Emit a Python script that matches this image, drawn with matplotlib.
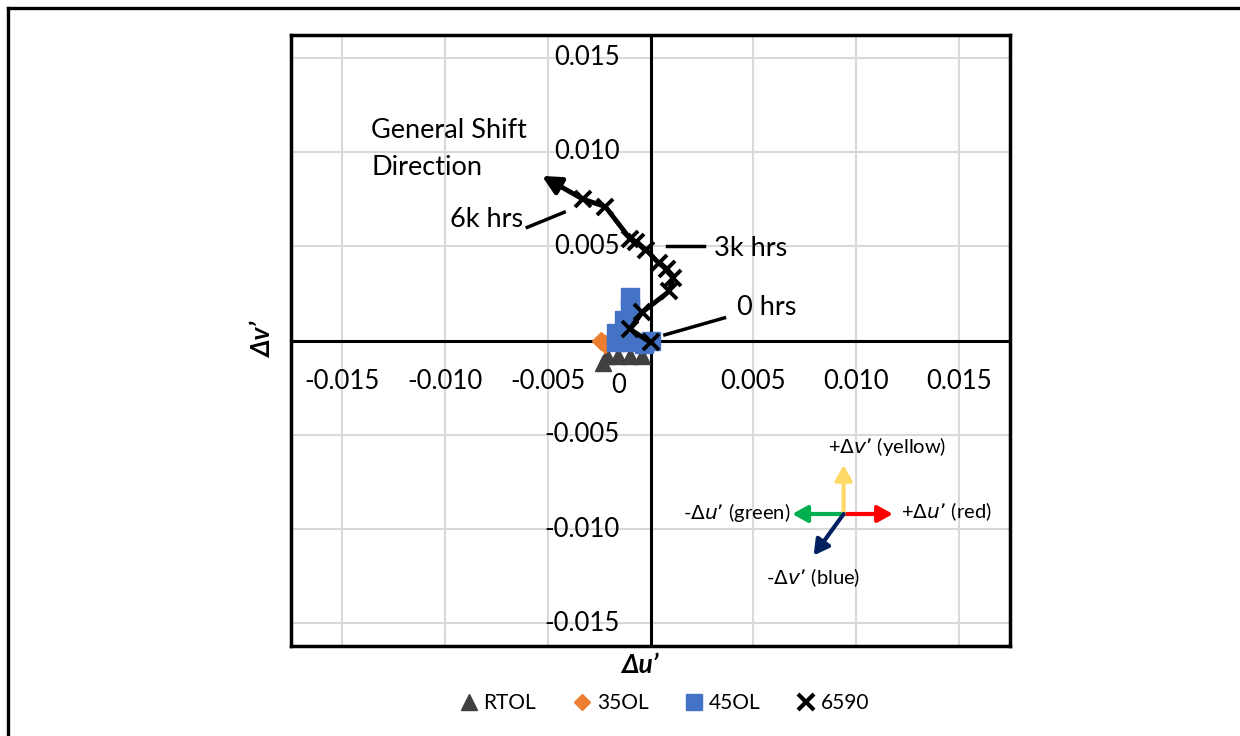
import numpy as np
import matplotlib.pyplot as plt
from matplotlib.lines import Line2D

plt.rcParams['font.family'] = ['Lato', 'DejaVu Sans']

# data (delta u', delta v')
rtol_u = [-0.0023, -0.0021, -0.0016, -0.0010, -0.0004]
rtol_v = [-0.0012, -0.0008, -0.0008, -0.0008, -0.0008]
ol35_u = [-0.0024, -0.0022]
ol35_v = [0.0000, -0.0002]
ol45_u = [-0.0010, -0.0010, -0.0013, -0.0017, -0.0017, -0.0011, -0.0003, 0.0000]
ol45_v = [0.0023, 0.0017, 0.0011, 0.0004, -0.0001, -0.0001, -0.0002, 0.0000]
s6590_u = [0.0000, -0.0010, -0.0004, 0.0009, 0.0011, 0.0008, 0.0004,
           -0.0002, -0.0007, -0.0010, -0.0022, -0.0033]
s6590_v = [-0.0001, 0.0006, 0.0015, 0.0026, 0.0033, 0.0038, 0.0041,
           0.0048, 0.0052, 0.0054, 0.0071, 0.0075]

ticks = [-0.015, -0.010, -0.005, 0.005, 0.010, 0.015]
tick_labels = ['-0.015', '-0.010', '-0.005', '0.005', '0.010', '0.015']

fig = plt.figure(figsize=(12.4, 7.36), dpi=100)
ax = fig.add_axes([291/1240, 1-646/736, 719/1240, 611/736])
ax.set_xlim(-0.0175, 0.0175)
ax.set_ylim(-0.0162, 0.0162)

ax.set_xticks([-0.015, -0.010, -0.005, 0, 0.005, 0.010, 0.015])
ax.set_yticks([-0.015, -0.010, -0.005, 0, 0.005, 0.010, 0.015])
ax.tick_params(length=0, labelbottom=False, labelleft=False)
ax.grid(color='#d9d9d9', lw=1.5)
for s in ax.spines.values():
    s.set_linewidth(2.5)
ax.axhline(0, color='black', lw=2.2, zorder=2)
ax.axvline(0, color='black', lw=2.2, zorder=2)

# tick labels next to zero axes
for t, lab in zip(ticks, tick_labels):
    ax.text(t, -0.0022, lab.replace('-', '\u2010'), ha='center', va='center', fontsize=18.5)
    ax.text(-0.0015, t, lab.replace('-', '\u2010'), ha='right', va='center', fontsize=18.5)
ax.text(-0.00155, -0.0024, '0', ha='center', va='center', fontsize=18.5)

ax.plot(rtol_u, rtol_v, ls='none', marker='^', ms=11, color='#404040', zorder=3)
ax.plot(ol35_u, ol35_v, ls='none', marker='D', ms=9, color='#ED7D31', zorder=4)
ax.plot(ol45_u, ol45_v, ls='none', marker='s', ms=13, color='#4472C4', zorder=5)
ax.plot(s6590_u, s6590_v, color='black', lw=3.5, marker='x', ms=12, mew=2.8, zorder=6)

# shift direction arrow
ax.annotate('', xy=(-0.0054, 0.0088), xytext=(s6590_u[-1], s6590_v[-1]),
            arrowprops=dict(arrowstyle='-|>,head_length=1.1,head_width=0.55',
                            color='black', lw=3.5), zorder=6)
ax.text(-0.0136, 0.0118, 'General Shift\nDirection', ha='left', va='top',
        fontsize=19.5, linespacing=1.6)

# hour labels with leader lines
ax.plot([-0.0060, -0.0042], [0.0060, 0.0068], color='black', lw=2.5)
ax.text(-0.0062, 0.0064, '6k hrs', ha='right', va='center', fontsize=19.5)
ax.plot([0.0008, 0.0026], [0.0050, 0.0050], color='black', lw=2.5)
ax.text(0.0031, 0.0049, '3k hrs', ha='left', va='center', fontsize=19.5)
ax.plot([0.0007, 0.0036], [0.0003, 0.0012], color='black', lw=2.5)
ax.text(0.0042, 0.00175, '0 hrs', ha='left', va='center', fontsize=19.5)

# colour direction key
cx, cy = 0.0094, -0.0092
key = [(0.0024, 0, '#FF0000'), (-0.0025, 0, '#00B050'),
       (0, 0.0026, '#FFD966'), (-0.00146, -0.0022, '#002060')]
for dx, dy, col in key:
    ax.annotate('', xy=(cx + dx, cy + dy), xytext=(cx, cy),
                arrowprops=dict(arrowstyle='-|>,head_length=0.9,head_width=0.5',
                                color=col, lw=3, shrinkA=0, shrinkB=0), zorder=6)
ax.text(cx + 0.0021, cy + 0.0036, '+$\\mathit{\u0394v\u2019}$ (yellow)', ha='center',
        va='center', fontsize=14.5)
ax.text(cx + 0.0028, cy + 0.0001, '+$\\mathit{\u0394u\u2019}$ (red)', ha='left',
        va='center', fontsize=14.5)
ax.text(cx - 0.0026, cy + 0.0001, '-$\\mathit{\u0394u\u2019}$ (green)', ha='right',
        va='center', fontsize=14.5)
ax.text(cx - 0.0015, cy - 0.0034, '-$\\mathit{\u0394v\u2019}$ (blue)', ha='center',
        va='center', fontsize=14.5)

fig.text(640/1240, 1-665/736, '\u0394u\u2019', ha='center', va='center',
         fontsize=19, fontweight='bold', style='italic')
fig.text(263/1240, 1-340/736, '\u0394v\u2019', ha='center', va='center',
         fontsize=19, fontweight='bold', style='italic', rotation=90)

handles = [
    Line2D([], [], ls='none', marker='^', ms=12, color='#404040'),
    Line2D([], [], ls='none', marker='D', ms=8, color='#ED7D31'),
    Line2D([], [], ls='none', marker='s', ms=12, color='#4472C4'),
    Line2D([], [], ls='none', marker='x', ms=11, mew=3, color='black'),
]
fig.legend(handles, ['RTOL', '35OL', '45OL', '6590'], loc='center',
           bbox_to_anchor=(663/1240, 1-703/736), ncol=4, frameon=False,
           fontsize=15, handletextpad=0.1, columnspacing=1.6, handlelength=1.2)

# outer border
fig.add_artist(Line2D([8/1240, 8/1240], [0, 1-8/736], color='black', lw=2.4))
fig.add_artist(Line2D([8/1240, 1], [1-8/736, 1-8/736], color='black', lw=2.4))

fig.savefig('out.png', dpi=100)
